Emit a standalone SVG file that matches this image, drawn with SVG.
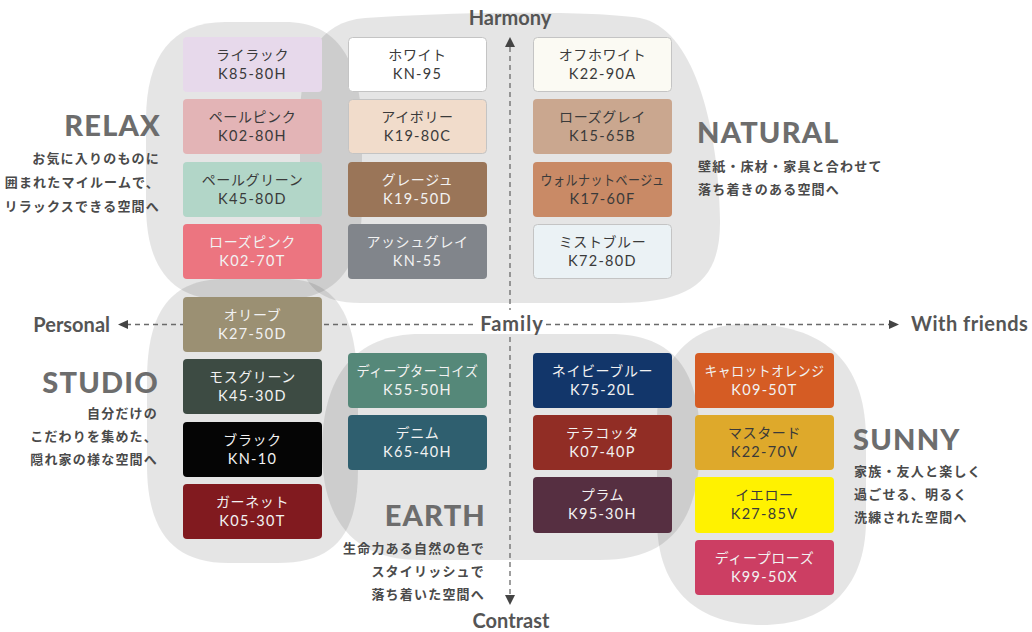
<svg xmlns="http://www.w3.org/2000/svg" width="1032" height="632" viewBox="0 0 1032 632">
<defs>
<style>
.blob{fill:#000;fill-opacity:0.1}
.sw{stroke:none}
.bd{stroke:#c4c4c4;stroke-width:1}
.n{font-family:"Noto Sans CJK JP","Noto Sans",sans-serif;font-size:14px;text-anchor:middle;letter-spacing:0.6px}
.c{font-family:"Lato","Liberation Sans",sans-serif;font-size:14.5px;text-anchor:middle;letter-spacing:1.3px}
.dk{fill:#3a3a3a}
.lt{fill:#f2f2f2}
.t{font-family:"Lato","Liberation Sans",sans-serif;font-weight:900;font-size:29px;fill:#6d6d6d;letter-spacing:1.2px}
.s{font-family:"Noto Sans CJK JP","Noto Sans",sans-serif;font-weight:700;font-size:13px;fill:#4a4a4a;letter-spacing:1.2px}
.ax{font-family:"Lato","Liberation Sans",sans-serif;font-weight:700;font-size:20px;fill:#555}
.dash{stroke:#6a6a6a;stroke-width:1.3;stroke-dasharray:5 4;fill:none}
.ah{fill:#444}
</style>
</defs>
<rect width="1032" height="632" fill="#fff"/>

<g id="blobs">
<path class="blob" d="M225,22 L285,22 C338,22 362,60 362,135 L362,205 C362,268 336,300 280,300 L225,300 C172,300 146,268 146,205 L146,120 C146,56 172,22 225,22 Z"/>
<path class="blob" d="M365,18 C450,12 590,10 640,18 C692,28 718,120 720,220 C721,282 690,302 620,303 L360,303 C320,303 300,285 300,250 L300,120 C300,58 318,22 365,18 Z"/>
<path class="blob" d="M225,279 L285,279 C338,279 358,318 358,395 L358,470 C358,535 334,563 278,563 L228,563 C172,563 147,530 147,465 L147,380 C147,310 172,279 225,279 Z"/>
<path class="blob" d="M420,334 L610,334 C675,334 700,372 700,442 C700,522 670,560 600,560 L420,560 C355,560 322,522 322,450 C322,376 355,334 420,334 Z"/>
<path class="blob" d="M745,324 C825,324 866,362 866,440 L866,520 C866,592 822,625 762,625 C700,625 657,592 657,520 L657,420 C657,360 690,324 745,324 Z"/>
</g>

<g id="connectors">
<line class="dash" x1="510" y1="47" x2="510" y2="310"/>
<line class="dash" x1="510" y1="337" x2="510" y2="596"/>
<path class="ah" d="M510,37 L515,47 L505,47 Z"/>
<path class="ah" d="M510,605 L515,595 L505,595 Z"/>
<line class="dash" x1="126" y1="324.5" x2="477" y2="324.5"/>
<line class="dash" x1="546" y1="324.5" x2="890" y2="324.5"/>
<path class="ah" d="M118,324.5 L128,320 L128,329 Z"/>
<path class="ah" d="M899,324.5 L889,320 L889,329 Z"/>
</g>

<g id="axis-labels">
<text class="ax" x="510" y="25" text-anchor="middle">Harmony</text>
<text class="ax" x="511" y="628" text-anchor="middle">Contrast</text>
<text class="ax" x="110" y="332" text-anchor="end">Personal</text>
<text class="ax" x="512" y="331" text-anchor="middle" letter-spacing="1">Family</text>
<text class="ax" x="911" y="331" letter-spacing="0.5">With friends</text>
</g>

<g id="relax">
<text class="t" x="161" y="136" text-anchor="end">RELAX</text>
<text class="s" x="160" y="163" text-anchor="end">お気に入りのものに</text>
<text class="s" x="160" y="187" text-anchor="end">囲まれたマイルームで、</text>
<text class="s" x="160" y="211" text-anchor="end">リラックスできる空間へ</text>
</g>
<g id="natural">
<text class="t" x="697" y="143">NATURAL</text>
<text class="s" x="698" y="171">壁紙・床材・家具と合わせて</text>
<text class="s" x="698" y="194">落ち着きのある空間へ</text>
</g>
<g id="studio">
<text class="t" x="159" y="393" text-anchor="end">STUDIO</text>
<text class="s" x="158" y="418" text-anchor="end">自分だけの</text>
<text class="s" x="158" y="441" text-anchor="end">こだわりを集めた、</text>
<text class="s" x="158" y="464" text-anchor="end">隠れ家の様な空間へ</text>
</g>
<g id="earth">
<text class="t" x="486" y="526" text-anchor="end">EARTH</text>
<text class="s" x="485" y="553" text-anchor="end">生命力ある自然の色で</text>
<text class="s" x="485" y="576" text-anchor="end">スタイリッシュで</text>
<text class="s" x="485" y="599" text-anchor="end">落ち着いた空間へ</text>
</g>
<g id="sunny">
<text class="t" x="853" y="450">SUNNY</text>
<text class="s" x="854" y="476">家族・友人と楽しく</text>
<text class="s" x="854" y="499">過ごせる、明るく</text>
<text class="s" x="854" y="522">洗練された空間へ</text>
</g>

<g id="sw-lilac"><rect class="sw" x="183" y="37" width="139" height="55" rx="4" fill="#e7d9eb"/><text class="n dk" x="252.5" y="60">ライラック</text><text class="c dk" x="252.5" y="79">K85-80H</text></g>
<g id="sw-palepink"><rect class="sw" x="183" y="99" width="139" height="55" rx="4" fill="#e3b4b6"/><text class="n dk" x="252.5" y="122">ペールピンク</text><text class="c dk" x="252.5" y="141">K02-80H</text></g>
<g id="sw-palegreen"><rect class="sw" x="183" y="162" width="139" height="55" rx="4" fill="#b2d6c8"/><text class="n dk" x="252.5" y="185">ペールグリーン</text><text class="c dk" x="252.5" y="204">K45-80D</text></g>
<g id="sw-rosepink"><rect class="sw" x="183" y="224" width="139" height="55" rx="4" fill="#ec7580"/><text class="n lt" x="252.5" y="247">ローズピンク</text><text class="c lt" x="252.5" y="266">K02-70T</text></g>

<g id="sw-white"><rect class="sw bd" x="348.5" y="37.5" width="138" height="54" rx="4" fill="#ffffff"/><text class="n dk" x="417.5" y="60">ホワイト</text><text class="c dk" x="417.5" y="79">KN-95</text></g>
<g id="sw-ivory"><rect class="sw bd" x="348.5" y="99.5" width="138" height="54" rx="4" fill="#f1dccb"/><text class="n dk" x="417.5" y="122">アイボリー</text><text class="c dk" x="417.5" y="141">K19-80C</text></g>
<g id="sw-greige"><rect class="sw" x="348" y="162" width="139" height="55" rx="4" fill="#9a7558"/><text class="n lt" x="417.5" y="185">グレージュ</text><text class="c lt" x="417.5" y="204">K19-50D</text></g>
<g id="sw-ashgray"><rect class="sw" x="348" y="224" width="139" height="55" rx="4" fill="#81858b"/><text class="n lt" x="417.5" y="247">アッシュグレイ</text><text class="c lt" x="417.5" y="266">KN-55</text></g>

<g id="sw-offwhite"><rect class="sw bd" x="533.5" y="37.5" width="138" height="54" rx="4" fill="#fbfaf3"/><text class="n dk" x="602.5" y="60">オフホワイト</text><text class="c dk" x="602.5" y="79">K22-90A</text></g>
<g id="sw-rosegray"><rect class="sw" x="533" y="99" width="139" height="55" rx="4" fill="#caa78f"/><text class="n dk" x="602.5" y="122">ローズグレイ</text><text class="c dk" x="602.5" y="141">K15-65B</text></g>
<g id="sw-walnut"><rect class="sw" x="533" y="162" width="139" height="55" rx="4" fill="#c98a66"/><text class="n dk" x="602.5" y="185" textLength="124" lengthAdjust="spacingAndGlyphs">ウォルナットベージュ</text><text class="c dk" x="602.5" y="204">K17-60F</text></g>
<g id="sw-mistblue"><rect class="sw bd" x="533.5" y="224.5" width="138" height="54" rx="4" fill="#ebf2f5"/><text class="n dk" x="602.5" y="247">ミストブルー</text><text class="c dk" x="602.5" y="266">K72-80D</text></g>

<g id="sw-olive"><rect class="sw" x="183" y="297" width="139" height="55" rx="4" fill="#9b9073"/><text class="n lt" x="252.5" y="320">オリーブ</text><text class="c lt" x="252.5" y="339">K27-50D</text></g>
<g id="sw-mossgreen"><rect class="sw" x="183" y="359" width="139" height="55" rx="4" fill="#3d4b43"/><text class="n lt" x="252.5" y="382">モスグリーン</text><text class="c lt" x="252.5" y="401">K45-30D</text></g>
<g id="sw-black"><rect class="sw" x="183" y="422" width="139" height="55" rx="4" fill="#050505"/><text class="n lt" x="252.5" y="445">ブラック</text><text class="c lt" x="252.5" y="464">KN-10</text></g>
<g id="sw-garnet"><rect class="sw" x="183" y="484" width="139" height="55" rx="4" fill="#811a1f"/><text class="n lt" x="252.5" y="507">ガーネット</text><text class="c lt" x="252.5" y="526">K05-30T</text></g>

<g id="sw-deepturquoise"><rect class="sw" x="348" y="353" width="139" height="55" rx="4" fill="#558879"/><text class="n lt" x="417.5" y="376" textLength="122" lengthAdjust="spacingAndGlyphs">ディープターコイズ</text><text class="c lt" x="417.5" y="395">K55-50H</text></g>
<g id="sw-denim"><rect class="sw" x="348" y="415" width="139" height="55" rx="4" fill="#2f5f6f"/><text class="n lt" x="417.5" y="438">デニム</text><text class="c lt" x="417.5" y="457">K65-40H</text></g>

<g id="sw-navy"><rect class="sw" x="533" y="353" width="139" height="55" rx="4" fill="#12366a"/><text class="n lt" x="602.5" y="376">ネイビーブルー</text><text class="c lt" x="602.5" y="395">K75-20L</text></g>
<g id="sw-terracotta"><rect class="sw" x="533" y="415" width="139" height="55" rx="4" fill="#912d25"/><text class="n lt" x="602.5" y="438">テラコッタ</text><text class="c lt" x="602.5" y="457">K07-40P</text></g>
<g id="sw-plum"><rect class="sw" x="533" y="477" width="139" height="56" rx="4" fill="#562f41"/><text class="n lt" x="602.5" y="500">プラム</text><text class="c lt" x="602.5" y="519">K95-30H</text></g>

<g id="sw-carrot"><rect class="sw" x="695" y="353" width="139" height="55" rx="4" fill="#d55c24"/><text class="n lt" x="764.5" y="376" textLength="120" lengthAdjust="spacingAndGlyphs">キャロットオレンジ</text><text class="c lt" x="764.5" y="395">K09-50T</text></g>
<g id="sw-mustard"><rect class="sw" x="695" y="415" width="139" height="55" rx="4" fill="#dea92b"/><text class="n dk" x="764.5" y="438">マスタード</text><text class="c dk" x="764.5" y="457">K22-70V</text></g>
<g id="sw-yellow"><rect class="sw" x="695" y="477" width="139" height="56" rx="4" fill="#fff200"/><text class="n dk" x="764.5" y="500">イエロー</text><text class="c dk" x="764.5" y="519">K27-85V</text></g>
<g id="sw-deeprose"><rect class="sw" x="695" y="540" width="139" height="55" rx="4" fill="#cc3e63"/><text class="n lt" x="764.5" y="563">ディープローズ</text><text class="c lt" x="764.5" y="582">K99-50X</text></g>
</svg>
